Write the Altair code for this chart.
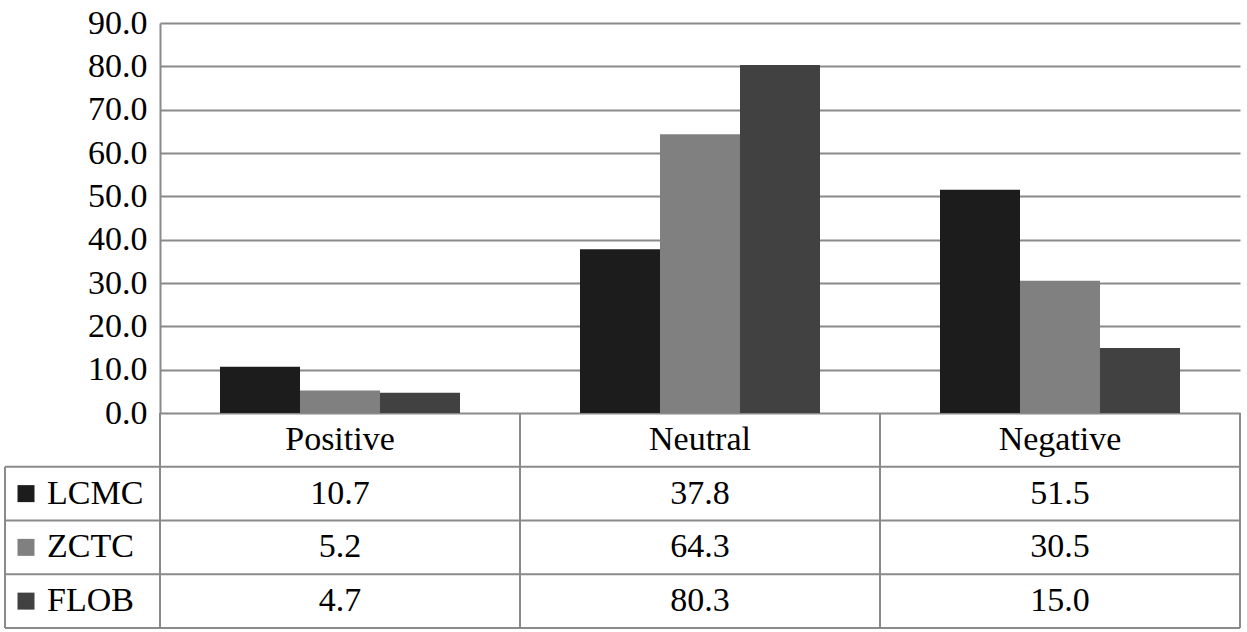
import altair as alt
import pandas as pd

categories = ["Positive", "Neutral", "Negative"]
series = ["LCMC", "ZCTC", "FLOB"]
lcmc = [10.7, 37.8, 51.5]
zctc = [5.2, 64.3, 30.5]
flob = [4.7, 80.3, 15.0]
colors = ["#1c1c1c", "#808080", "#414141"]
y_ticks = [0, 10, 20, 30, 40, 50, 60, 70, 80, 90]
rows = ["header"] + series

values = {"LCMC": lcmc, "ZCTC": zctc, "FLOB": flob}
bars_df = pd.DataFrame(
    [{"category": c, "series": s, "value": values[s][i]}
     for s in series for i, c in enumerate(categories)]
)
table_df = pd.DataFrame(
    [{"category": c, "row": "header", "label": c} for c in categories]
    + [{"category": c, "row": s, "label": f"{values[s][i]:.1f}"}
       for s in series for i, c in enumerate(categories)]
)
series_df = pd.DataFrame({"row": series, "series": series})
hline_df = pd.DataFrame({"row": series})
bottom_df = pd.DataFrame({"row": [series[-1]]})
vline_df = pd.DataFrame({"category": categories, "top": "header", "bottom": series[-1]})
vright_df = pd.DataFrame({"category": [categories[-1]], "top": "header", "bottom": series[-1]})
vleft_df = pd.DataFrame({"top": [series[0]], "bottom": [series[-1]]})

FONT = "'Liberation Serif', 'Times New Roman', 'DejaVu Serif', serif"
FS = 34
LINE = "#8a8a8a"
W, H = 1080, 605
PLOT_H = 390

xscale = alt.Scale(domain=categories, paddingInner=0, paddingOuter=0)
color_scale = alt.Scale(domain=series, range=colors)
row_scale = alt.Scale(domain=rows, range=[PLOT_H, H], paddingInner=0, paddingOuter=0)

bars = alt.Chart(bars_df).mark_bar().encode(
    x=alt.X("category:N", scale=xscale, sort=categories, axis=None),
    xOffset=alt.XOffset("series:N", sort=series,
                        scale=alt.Scale(domain=series, paddingInner=0, paddingOuter=0.75)),
    y=alt.Y("value:Q",
            scale=alt.Scale(domain=[0, 90], range=[PLOT_H, 0], nice=False, zero=True),
            axis=alt.Axis(values=y_ticks, format=".1f", grid=True, gridColor=LINE,
                          gridWidth=2, domain=True, domainColor=LINE, domainWidth=2,
                          ticks=False, labelFont=FONT, labelFontSize=FS,
                          labelColor="black", labelPadding=13, title=None)),
    color=alt.Color("series:N", scale=color_scale, legend=None),
)

cell_text = alt.Chart(table_df).mark_text(font=FONT, fontSize=FS, color="black").encode(
    x=alt.X("category:N", scale=xscale, sort=categories, axis=None),
    y=alt.Y("row:N", scale=row_scale, axis=None),
    text="label:N",
)

hlines = alt.Chart(hline_df).mark_rule(color=LINE, strokeWidth=2).encode(
    y=alt.Y("row:N", scale=row_scale, bandPosition=0, axis=None),
    x=alt.value(-155),
    x2=alt.value(W),
)
bottom_line = alt.Chart(bottom_df).mark_rule(color=LINE, strokeWidth=2).encode(
    y=alt.Y("row:N", scale=row_scale, bandPosition=1, axis=None),
    x=alt.value(-155),
    x2=alt.value(W),
)
vlines = alt.Chart(vline_df).mark_rule(color=LINE, strokeWidth=2).encode(
    x=alt.X("category:N", scale=xscale, sort=categories, bandPosition=0, axis=None),
    y=alt.Y("top:N", scale=row_scale, bandPosition=0, axis=None),
    y2=alt.Y2("bottom:N", bandPosition=1),
)
vright = alt.Chart(vright_df).mark_rule(color=LINE, strokeWidth=2).encode(
    x=alt.X("category:N", scale=xscale, sort=categories, bandPosition=1, axis=None),
    y=alt.Y("top:N", scale=row_scale, bandPosition=0, axis=None),
    y2=alt.Y2("bottom:N", bandPosition=1),
)
vleft = alt.Chart(vleft_df).mark_rule(color=LINE, strokeWidth=2).encode(
    x=alt.value(-155),
    y=alt.Y("top:N", scale=row_scale, bandPosition=0, axis=None),
    y2=alt.Y2("bottom:N", bandPosition=1),
)

squares = alt.Chart(series_df).mark_point(shape="square", filled=True, size=289, opacity=1).encode(
    x=alt.value(-134),
    y=alt.Y("row:N", scale=row_scale, axis=None),
    color=alt.Color("series:N", scale=color_scale, legend=None),
)
row_labels = alt.Chart(series_df).mark_text(font=FONT, fontSize=FS, color="black", align="left").encode(
    x=alt.value(-113),
    y=alt.Y("row:N", scale=row_scale, axis=None),
    text="series:N",
)

chart = alt.layer(
    bars, hlines, bottom_line, vlines, vright, vleft, cell_text, squares, row_labels
).resolve_scale(y="independent").properties(
    width=W, height=H,
    autosize=alt.AutoSizeParams(type="none"),
    padding={"left": 160, "top": 23, "right": 7, "bottom": 4},
    background="white",
).configure_view(stroke=None)

chart.save("out.html", embed_options={"renderer": "svg", "actions": False})
